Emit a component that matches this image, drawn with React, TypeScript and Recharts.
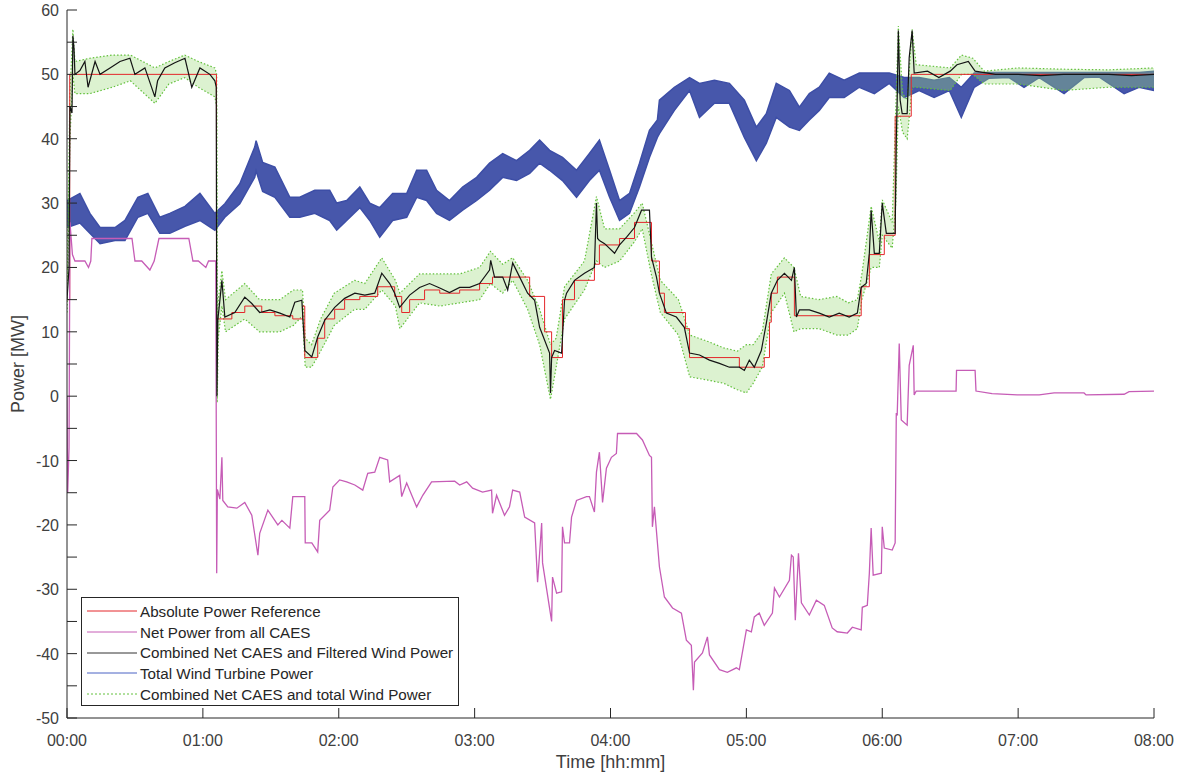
import React from 'react';
import { ComposedChart, Line, Area, XAxis, YAxis } from 'recharts';

const FONT = '"Liberation Sans", Arial, Helvetica, sans-serif';
const AXIS = '#262626';
const TXT = '#404040';

const RED = '#e4262a';
const MAGENTA = '#c65cb6';
const BLACK = '#141414';
const BLUE = '#3d4ea6';
const GREEN = '#62c03c';

// x axis: minutes since 00:00
const hourTicks = [0, 60, 120, 180, 240, 300, 360, 420, 480];
const hourLabels = ['00:00', '01:00', '02:00', '03:00', '04:00', '05:00', '06:00', '07:00', '08:00'];
const powerTicks = [-50, -45, -40, -35, -30, -25, -20, -15, -10, -5, 0, 5, 10, 15, 20, 25, 30, 35, 40, 45, 50, 55, 60];

const seriesNames = [
  'Absolute Power Reference',
  'Net Power from all CAES',
  'Combined Net CAES and Filtered Wind Power',
  'Total Wind Turbine Power',
  'Combined Net CAES and total Wind Power',
];

// [minute, MW]
const powerReference: [number, number][] = [
  [0, 15], [1.2, 50], [66.0, 12], [72.8, 13], [78.5, 14], [86, 13], [91.8, 12.5], [99.7, 12], [104, 14],
  [105, 6], [110.7, 9], [113.8, 12], [118.2, 13.5], [122.6, 15], [129.3, 15.5], [137.2, 17], [144.7, 15.5],
  [147.8, 13], [151.3, 15], [157.9, 16.5], [164.6, 16], [173.4, 16.5], [182.2, 17.5], [187.9, 18.5],
  [204.3, 15.5], [210.9, 10], [214, 6], [218.8, 15], [224.1, 18], [232.9, 20.5], [235.1, 23.5], [244, 24.5],
  [250.6, 27], [258.1, 21], [261.6, 16], [263.8, 13], [273.1, 10.5], [274.9, 6], [296.9, 4.5], [307.9, 6],
  [310.2, 11.5], [311, 16], [313.7, 18.5], [321.2, 12.5], [350.7, 17], [354.3, 22], [360.9, 25], [365.7, 43.5],
  [372.8, 50], [480, 50],
];

const netCaes: [number, number][] = [
  [0, 0], [0.3, -15], [0.9, -8], [1.3, 27], [2.4, 22], [3.5, 21], [7.9, 21], [9.5, 20], [10.5, 21], [11.0, 24.5],
  [28.7, 24.5], [30.0, 21], [33, 21], [36.6, 19.6], [38.5, 21], [40.6, 24.5], [53.8, 24.5], [55.6, 21], [58, 21],
  [61.3, 20], [62.5, 21], [65.7, 21], [66.1, -27.5], [66.4, -14.5], [67.5, -16], [68.4, -9.5], [68.8, -16.2],
  [71, -17.2], [75, -17.4], [78.5, -16.5], [81.6, -18.5], [84.3, -24.7], [85.1, -21.3], [88.7, -17.7],
  [93.1, -20], [94.9, -19.3], [98.4, -20.5], [99.7, -15.6], [105, -15.6], [105.2, -22.8], [108.1, -22.8],
  [110.7, -24.2], [111.6, -19.3], [116, -17.7], [117.4, -14.1], [120.4, -13], [123.5, -13.3], [127.1, -13.8],
  [130.6, -14.6], [132.8, -12], [135.9, -11.8], [138.1, -9.5], [141.6, -9.9], [142.5, -13.3], [146.9, -12.3],
  [147.8, -15.6], [150, -13.5], [154.4, -17.2], [157.1, -15.4], [161, -13.3], [171.2, -13.2], [173.4, -13.8],
  [176.5, -13.3], [179.1, -14.3], [183.5, -14.9], [187.5, -14.6], [187.9, -18.2], [189.7, -15.4], [193.2, -18.5],
  [195.4, -17.2], [196.8, -14.6], [199.9, -14.9], [202.1, -18.8], [206.5, -19.7], [207.8, -28.9], [208.7, -24.4],
  [209.6, -19.7], [210, -25.9], [214, -35], [214.4, -28.1], [216.2, -30.6], [218.4, -30.4], [218.8, -20.3],
  [219.7, -22.8], [221.9, -22.8], [222.8, -18.8], [225, -16.2], [229.4, -15.6], [230.7, -15.6], [232.9, -18],
  [233.8, -11.8], [235.1, -8.7], [236.5, -16.5], [238.2, -11.2], [240.4, -9.5], [242.6, -8.9], [243.1, -5.8],
  [251.5, -5.8], [254.1, -6.8], [257.2, -9.2], [258.1, -9.5], [258.5, -20.3], [259.4, -17.2], [261.6, -26.5],
  [263.8, -31.2], [267.4, -32.9], [271.3, -33.7], [273.5, -37.9], [275.7, -38.7], [276.6, -45.7], [277.1, -41.3],
  [280.6, -39.9], [282.8, -37.4], [283.7, -40.2], [288.1, -42.5], [291.6, -42.9], [295.6, -42.2], [296.9, -42.5],
  [300, -36.3], [302.2, -36.6], [303.5, -34.3], [305.7, -33.7], [307.9, -35.6], [311.5, -33.7], [312.4, -29.8],
  [314.6, -31.2], [319, -28.6], [319.9, -24.7], [320.7, -25], [321.6, -34.8], [323, -24.4], [324.3, -32.1],
  [327.8, -34], [330.9, -31.7], [334.4, -32.5], [337.9, -36], [340.1, -36.6], [344.6, -36.8], [346.8, -35.9],
  [350.7, -36.3], [351.2, -32.8], [353.4, -32.5], [354.3, -27.5], [355.1, -20.5], [356, -27.8], [359.6, -27.5],
  [360, -20.3], [360.9, -23.6], [364.4, -23.9], [365.7, -22.8], [366.2, -2.6], [366.6, -3], [367.5, 8.2],
  [368.4, -3.7], [371, -4.5], [371.9, 4.8], [373.7, 7.9], [374.1, 0.2], [375, 0.8], [392.6, 0.8], [392.8, 4],
  [401, 4], [401.4, 0.8], [408.5, 0.4], [419.6, 0.2], [429.3, 0.2], [435.9, 0.5], [449.1, 0.5], [450, 0.2],
  [466.8, 0.3], [469, 0.7], [480, 0.8],
];

const combinedFiltered: [number, number][] = [
  [0, 15], [0.9, 20], [1.3, 45], [2.2, 44], [2.6, 56], [3.1, 54], [3.5, 50], [5.7, 50.6], [7.9, 52], [9.3, 48],
  [12.4, 52], [14.6, 50], [19, 51], [23.4, 52], [27.8, 52.5], [30, 50], [34.4, 51], [38.8, 46.5], [40, 49],
  [43.2, 51], [47.6, 51.8], [52.1, 52.5], [55.1, 48], [58.7, 51], [63.1, 50], [65.3, 49], [65.9, 48], [66.2, 0],
  [66.6, 11.8], [68.4, 18], [69.7, 12.3], [74.1, 13], [78.5, 15.4], [81.6, 14.4], [85.1, 13], [89.6, 13.4],
  [94, 12.9], [98.4, 12.3], [100.6, 14.6], [103.7, 14.9], [105, 7.1], [108.1, 6.1], [110.7, 9.2], [113.8, 11.8],
  [118.2, 13.8], [122.6, 15.2], [127.1, 16], [131.5, 15.7], [135.9, 16], [139, 19.1], [142.5, 17.5], [144.7, 16],
  [146.9, 13.8], [151.3, 15.7], [155.7, 16.9], [160.1, 17.5], [164.6, 16.8], [168.9, 16.1], [173.4, 16.9],
  [177.8, 16.9], [182.2, 17.5], [186.6, 19.6], [187.1, 21.1], [188.8, 18.5], [192.4, 18.5], [194.6, 16.5],
  [196.8, 20.7], [199.9, 18.5], [203.4, 16], [206.5, 14.9], [208.7, 10.7], [213.1, 6.7], [213.5, 0.5], [214, 6],
  [215.3, 7.1], [218.4, 6.7], [219.7, 14.9], [220.6, 16], [224.1, 18], [228.5, 19.1], [232.9, 20], [233.8, 30],
  [234.3, 24.5], [235.1, 24.2], [237.4, 23.7], [241.8, 22.2], [244, 23.5], [247.1, 24.7], [250.6, 26.2],
  [253.7, 28.9], [257.2, 28.9], [258.1, 21.6], [260.3, 18.5], [261.6, 16], [264.7, 12.9], [269.1, 12.3],
  [272.6, 10.7], [274.9, 6.7], [279.3, 6.4], [283.7, 5.6], [288.1, 5.1], [292.5, 4.5], [296.9, 4.5], [299.1, 4],
  [301.3, 5.6], [303.5, 4.5], [306.6, 7.1], [308.8, 11.3], [311, 16], [313.7, 18], [316.8, 19.1], [319.9, 18],
  [321.2, 20], [322.1, 12.3], [323.4, 13.4], [327.8, 13.4], [332.2, 12.9], [336.6, 12.3], [341, 12.9],
  [345.4, 12.3], [349, 12.9], [350.7, 16.9], [352.9, 17.5], [354.3, 22.2], [355.1, 28.9], [356.5, 22.2],
  [358.7, 22.2], [360, 30], [361.8, 25.3], [365.7, 25.3], [366.2, 39.8], [366.6, 46], [367.1, 56.8], [367.9, 46],
  [368.8, 43.9], [371, 43.9], [371.9, 52.6], [373.2, 56.8], [374.1, 50.2], [380, 50.5], [385, 49.5], [390, 50.5],
  [393, 51.5], [398, 52], [401, 50.5], [410, 50], [420, 50], [430, 49.8], [440, 50], [450, 50], [460, 50],
  [470, 49.8], [480, 50],
];

// [minute, low MW, high MW] envelope of the noisy wind trace
const windTurbine: [number, number, number][] = [
  [0, 26.2, 30.4], [5.7, 26.9, 31.5], [10.1, 25.3, 28.4], [14.6, 23.7, 26.2], [21.2, 24.2, 26.2], [25.6, 24.2, 27.3],
  [31.3, 27.8, 30.9], [35.7, 28.4, 31.5], [41, 25.3, 27.8], [45.4, 25.3, 28.4], [52.1, 26.4, 29.5], [58.7, 27.3, 31.5],
  [65.3, 25.8, 28.4], [69.7, 27.8, 29.9], [76.3, 29.9, 33], [82.9, 34, 38.7], [83.5, 35, 39.7], [86.4, 31.8, 36.3],
  [91.8, 30.9, 35.6], [98.4, 27.8, 30.9], [102.8, 27.8, 30.9], [109.4, 28.4, 32], [116, 27.3, 32],
  [119.1, 25.8, 30], [123.5, 27.3, 30.4], [129.3, 29.3, 32.5], [133.7, 27.3, 30], [138.1, 24.7, 29.3],
  [143.8, 27.3, 31.5], [150, 27.8, 31.5], [154.4, 30.9, 35.1], [158.8, 30.4, 35.1], [163.2, 28.4, 32],
  [168.9, 27.3, 30.4], [174.7, 28.9, 32.5], [180.9, 30.4, 34], [186.6, 32, 36.2], [192.4, 34, 37.7],
  [198.5, 33.5, 36.6], [204.3, 34.6, 38.2], [208.7, 36.2, 39.8], [213.1, 35.1, 38.2], [218.8, 33.5, 37.1],
  [225, 30.9, 35.1], [230.7, 33.5, 37.7], [235.1, 35.1, 39.8], [239.6, 30.9, 35.1], [244, 27.3, 30.4],
  [248.4, 28.4, 31.5], [252.8, 32.5, 36.2], [257.2, 37.1, 41.3], [260.7, 40.2, 42.9], [261.6, 40.8, 46],
  [268.2, 44.4, 48], [274.9, 47.5, 49.5], [279.3, 43.3, 48.6], [285.9, 45.5, 49.1],
  [292.5, 45.5, 48.6], [299.1, 40.2, 46], [304.4, 36.6, 41.8], [308.8, 39.3, 43.9], [313.2, 43.3, 48.6],
  [319, 41.8, 47.5], [323.4, 41.3, 44.9], [327.8, 42.9, 47], [332.2, 44.4, 48], [336.6, 46.4, 50.2],
  [343.2, 46.4, 49.1], [349.9, 48, 50.2], [356.5, 47, 50.2], [363.1, 48.6, 50.2], [369.7, 46.4, 49.5],
  [376.3, 47.5, 49.5], [382.9, 46.4, 49.1], [389.6, 47.5, 49.5], [394.9, 43.3, 48], [400.6, 48, 50.2],
  [407.2, 49.4, 50.3], [416, 49.5, 50.3], [422.6, 48, 50.3], [429.3, 49.5, 50.3], [440.3, 47, 50.3],
  [449.1, 49.5, 50.3], [455.7, 49.6, 50.3], [466.8, 47, 50.3], [473.4, 48, 50.3], [480, 47.5, 50.5],
];

// [minute, low MW, high MW] spread of the dotted combined total trace
const combinedTotal: [number, number, number][] = [
  [0, 13, 17], [1.3, 40, 47], [2.6, 50, 57], [3.5, 47, 52], [10, 47, 52.5], [20, 48, 53], [28, 49, 53],
  [38.8, 45.5, 51], [45, 48.5, 52], [52, 49.5, 53], [58, 48, 52], [65.3, 46.5, 51], [66.1, 45, 50], [66.3, -1, 5],
  [66.8, 9, 15], [68.4, 14, 19.5], [70, 10, 15], [78.5, 12, 17.5], [85, 10, 15], [94, 10, 15], [100, 11, 16.5],
  [104, 12.5, 16.5], [105.2, 4.5, 9], [108, 4.5, 8], [112, 7, 12], [118, 11, 16], [127, 13.5, 18],
  [131.5, 13.5, 17.5], [139, 16.5, 21.5], [145, 14, 18], [147, 10.5, 16], [155.7, 14.5, 19], [164.6, 14, 19],
  [173.4, 14.5, 19], [182.2, 15, 20], [187, 17.5, 22.5], [192.4, 16, 20.5], [196.8, 18, 21.5], [203.4, 13.5, 18],
  [208.7, 8, 13.5], [213.5, -0.5, 8], [216, 4.5, 9], [219.7, 12, 17], [228.5, 16.5, 21], [233.8, 21, 31],
  [237.4, 20, 26], [244, 21, 26], [250.6, 24, 28.5], [254, 26, 30], [258, 19, 24], [262, 13, 18],
  [270, 9.5, 15], [275, 3, 9.5], [283, 2.5, 8.5], [290, 2, 7.5], [296, 1, 7], [300, 0.5, 8], [303, 2, 8],
  [307, 4.5, 10], [311, 13, 19], [316.8, 16, 21.5], [321, 10, 20], [324, 10.5, 15.5], [332, 10.5, 15],
  [340, 9.5, 15.5], [345, 9.5, 14.5], [349, 10.5, 15], [351, 15, 19], [355.1, 20, 29.5], [358.7, 20, 24],
  [360, 25, 30.5], [364.4, 23, 27], [366, 30, 45], [367.1, 45, 57.5], [369, 41, 47], [371, 40, 46],
  [373.2, 48, 57], [375, 48, 51.5], [390, 47.5, 51], [395, 50, 53], [400, 50, 52.5], [405, 48.5, 50.5],
  [420, 48.5, 51], [440, 47.5, 50.8], [460, 48, 50.7], [480, 48, 51],
];

const lineRows = (pts: [number, number][]) => pts.map(([t, p]) => ({ t, p }));
const bandRows = (pts: [number, number, number][]) => pts.map(([t, lo, hi]) => ({ t, band: [lo, hi] }));

const TICK_LEN = 10;

function LeftTick(props: any) {
  const { x, y, payload } = props;
  const axisX = x + 8;
  return (
    <g>
      <line x1={axisX} x2={axisX + TICK_LEN} y1={y} y2={y} stroke={AXIS} strokeWidth={1} />
      {payload.value % 10 === 0 && (
        <text x={x} y={y} dy={6} textAnchor="end" fontSize={16} fontFamily={FONT} fill={TXT}>
          {payload.value}
        </text>
      )}
    </g>
  );
}

function RightTick(props: any) {
  const { x, y } = props;
  return <line x1={x} x2={x - TICK_LEN} y1={y} y2={y} stroke={AXIS} strokeWidth={1} />;
}

function TopTick(props: any) {
  const { x, y } = props;
  return <line x1={x} x2={x} y1={y} y2={y + TICK_LEN} stroke={AXIS} strokeWidth={1} />;
}

function BottomTick(props: any) {
  const { x, y, payload } = props;
  const i = hourTicks.indexOf(payload.value);
  return (
    <g>
      <line x1={x} x2={x} y1={y} y2={y - TICK_LEN} stroke={AXIS} strokeWidth={1} />
      <text x={x} y={y + 28} textAnchor="middle" fontSize={16} fontFamily={FONT} fill={TXT}>
        {hourLabels[i]}
      </text>
    </g>
  );
}

function LegendBox() {
  const samples = [
    { color: RED, dash: undefined },
    { color: MAGENTA, dash: undefined },
    { color: '#333333', dash: undefined },
    { color: '#4a62c4', dash: undefined },
    { color: GREEN, dash: '2 2' },
  ];
  return (
    <div
      style={{
        position: 'absolute', left: 81, top: 597, width: 376, height: 107,
        border: '1px solid #262626', background: '#fff', fontFamily: FONT, fontSize: 15.2, color: '#262626',
      }}
    >
      {seriesNames.map((name, i) => (
        <div key={name} style={{ position: 'absolute', left: 0, top: 3 + i * 20.7, height: 20.7, display: 'flex', alignItems: 'center', whiteSpace: 'nowrap' }}>
          <svg width={58} height={20} style={{ display: 'block' }}>
            <line x1={5} x2={55} y1={10} y2={10} stroke={samples[i].color} strokeWidth={1} strokeDasharray={samples[i].dash} />
          </svg>
          <span>{name}</span>
        </div>
      ))}
    </div>
  );
}

export default function App() {
  return (
    <div style={{ position: 'absolute', left: 0, top: 0, width: 1183, height: 775, background: '#fff' }}>
      <ComposedChart width={1183} height={775} margin={{ top: 10, right: 29, bottom: 0, left: 0 }}>
        <XAxis
          dataKey="t" type="number" domain={[0, 480]} ticks={hourTicks} allowDataOverflow
          height={57} tickSize={0} tickMargin={0} tickLine={false} tick={<BottomTick />}
          axisLine={{ stroke: AXIS }}
          label={{ value: 'Time [hh:mm]', position: 'insideBottom', offset: 7, fontSize: 18, fontFamily: FONT, fill: TXT }}
        />
        <XAxis
          xAxisId="top" orientation="top" dataKey="t" type="number" domain={[0, 480]} ticks={hourTicks}
          allowDataOverflow height={0} tickSize={0} tickMargin={0} tickLine={false} tick={<TopTick />}
          axisLine={{ stroke: AXIS }}
        />
        <YAxis
          type="number" domain={[-50, 60]} ticks={powerTicks} allowDataOverflow width={67}
          tickSize={0} tickMargin={8} tickLine={false} tick={<LeftTick />} axisLine={{ stroke: AXIS }}
          label={{
            content: () => (
              <text transform="translate(24, 364) rotate(-90)" textAnchor="middle" fontSize={18} fontFamily={FONT} fill={TXT}>
                Power [MW]
              </text>
            ),
          }}
        />
        <YAxis
          yAxisId="r" orientation="right" type="number" domain={[-50, 60]} ticks={powerTicks} allowDataOverflow
          width={0} tickSize={0} tickMargin={0} tickLine={false} tick={<RightTick />} axisLine={{ stroke: AXIS }}
        />

        <Line data={lineRows(powerReference)} dataKey="p" type="stepAfter" stroke={RED} strokeWidth={1}
          dot={false} activeDot={false} isAnimationActive={false} name={seriesNames[0]} />
        <Line data={lineRows(netCaes)} dataKey="p" type="linear" stroke={MAGENTA} strokeWidth={1.3}
          dot={false} activeDot={false} isAnimationActive={false} name={seriesNames[1]} />
        <Area data={bandRows(windTurbine)} dataKey="band" type="linear" stroke={BLUE} strokeWidth={1.5}
          fill={BLUE} fillOpacity={0.95} dot={false} activeDot={false} isAnimationActive={false} name={seriesNames[3]} />
        <Area data={bandRows(combinedTotal)} dataKey="band" type="linear" stroke={GREEN} strokeWidth={1.2}
          strokeDasharray="1.5 2" fill="#9adb78" fillOpacity={0.35} dot={false} activeDot={false}
          isAnimationActive={false} name={seriesNames[4]} />
        <Line data={lineRows(combinedFiltered)} dataKey="p" type="linear" stroke={BLACK} strokeWidth={1.2}
          dot={false} activeDot={false} isAnimationActive={false} name={seriesNames[2]} />
      </ComposedChart>
      <LegendBox />
    </div>
  );
}
